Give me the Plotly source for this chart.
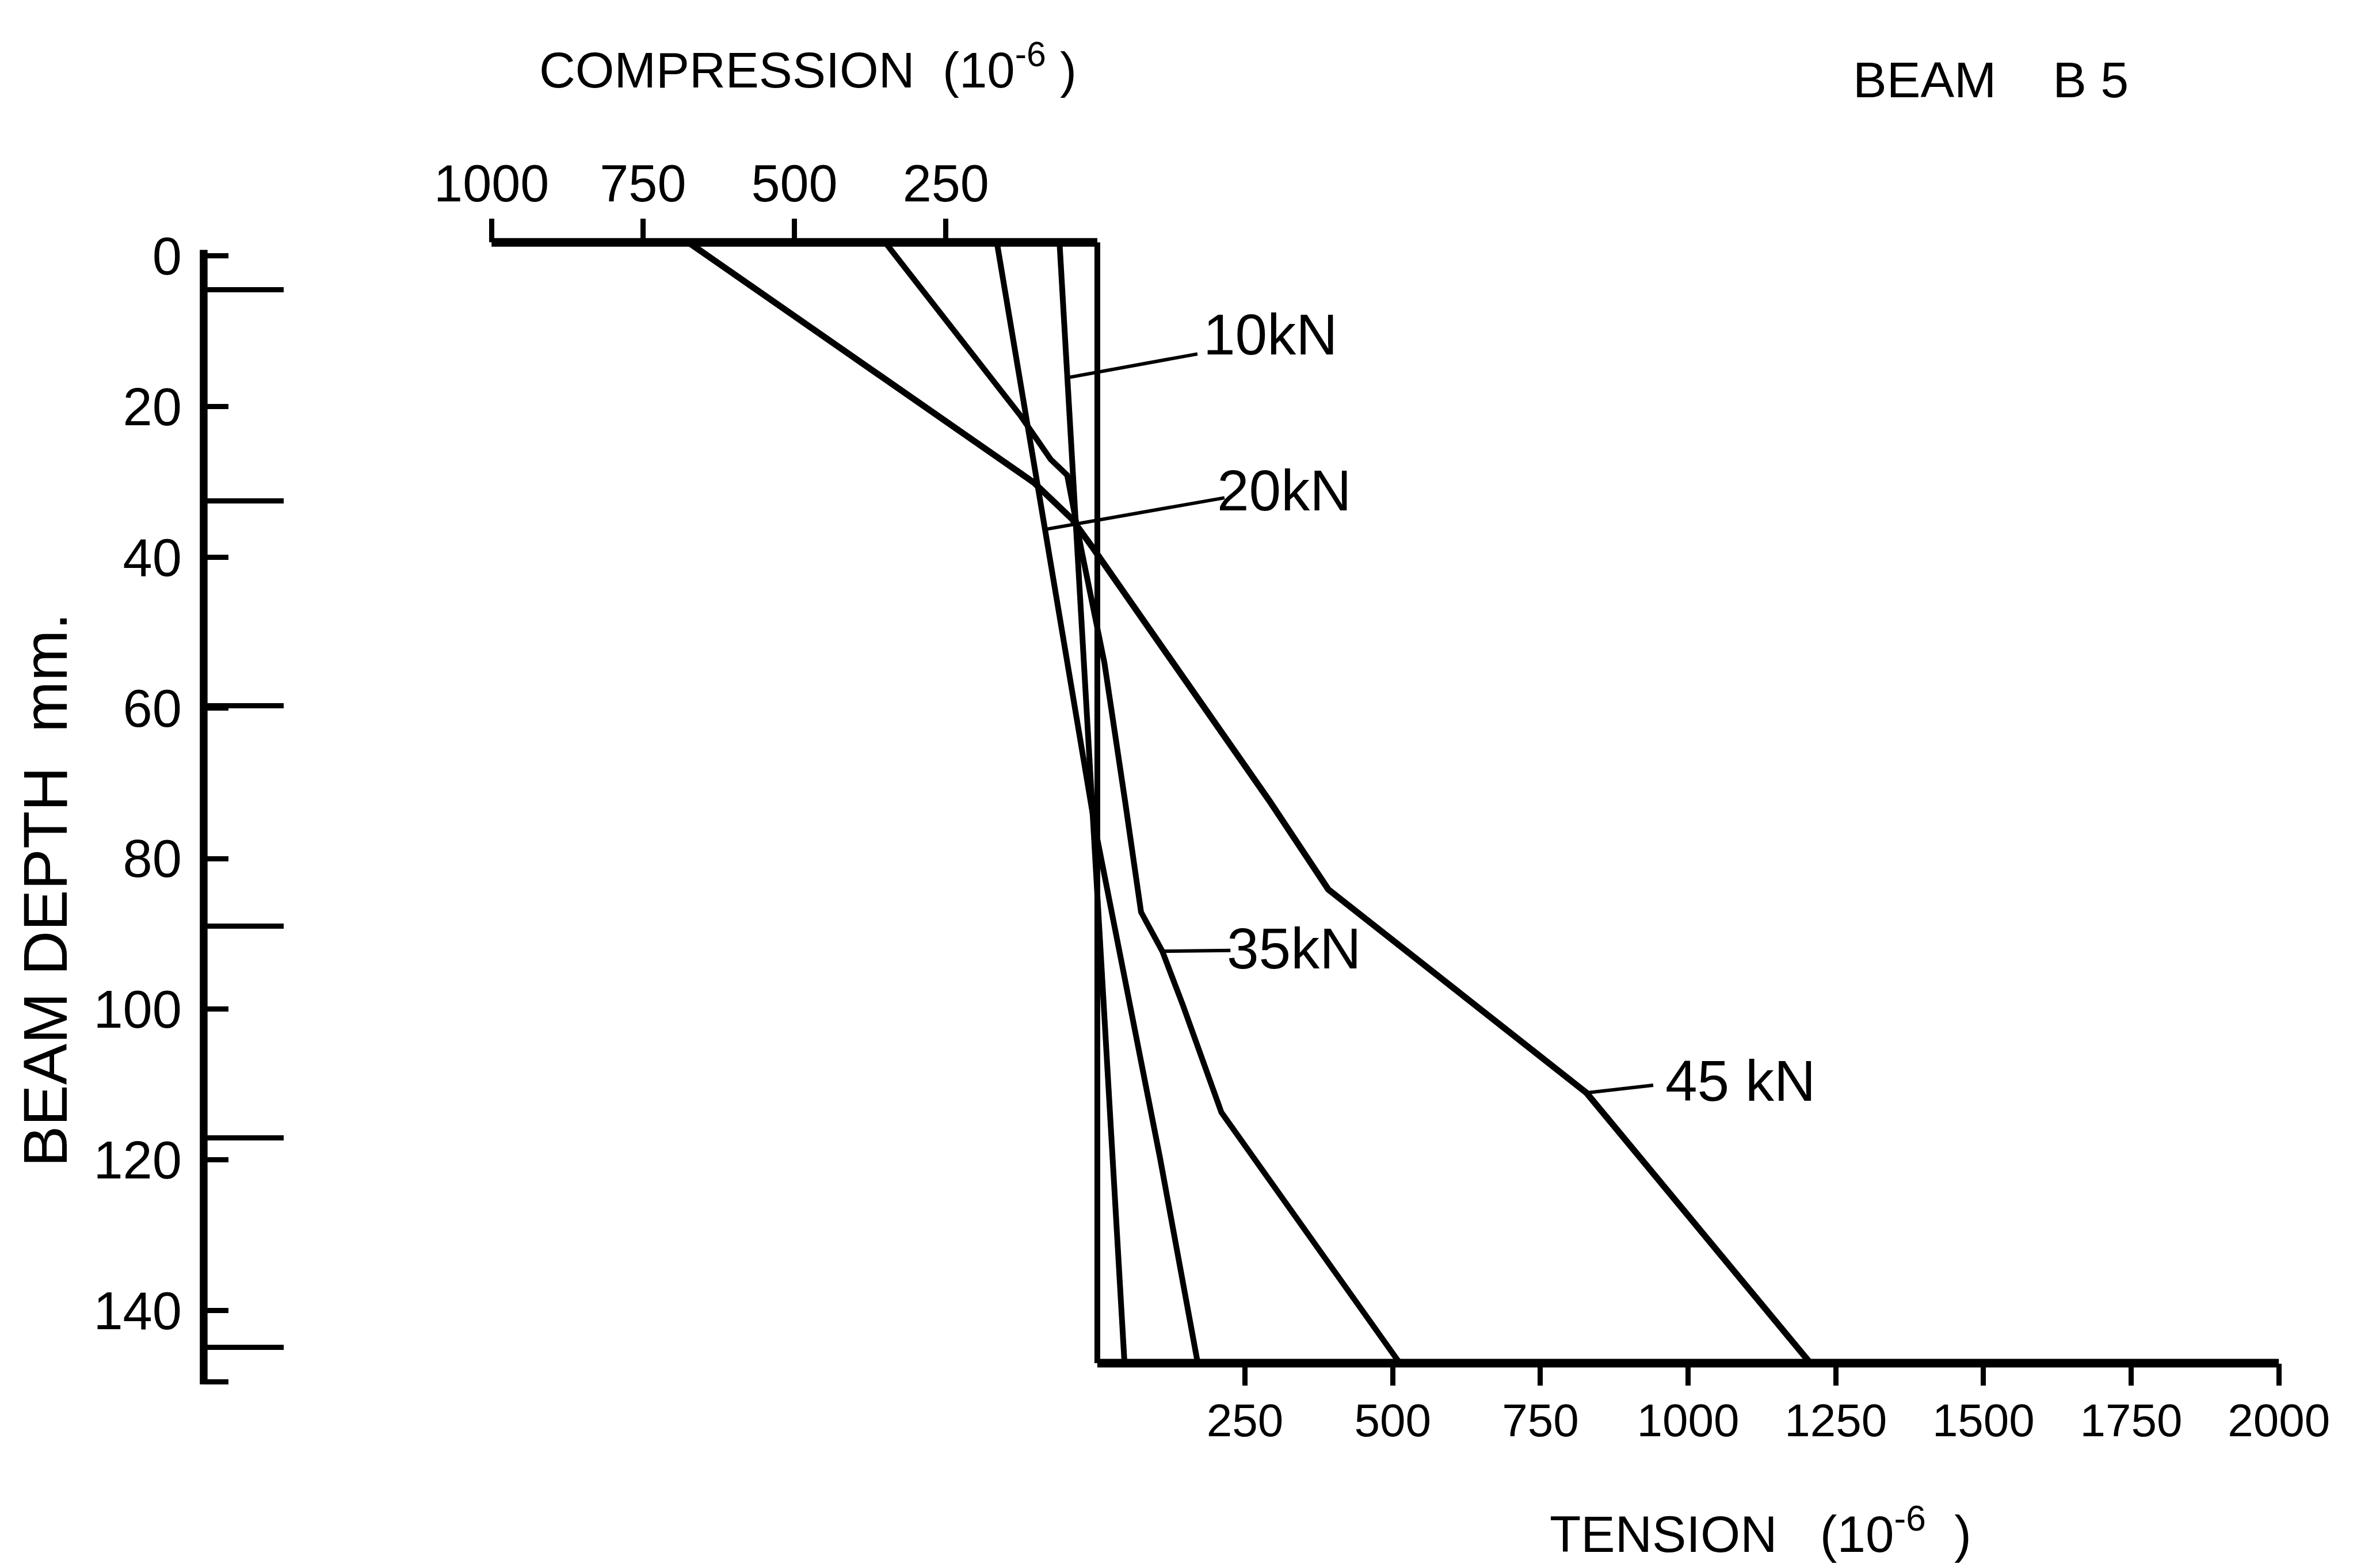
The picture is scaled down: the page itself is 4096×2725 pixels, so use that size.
import numpy as np
import plotly.graph_objects as go

# ---------------- data (strain in 1e-6, depth in mm) ----------------
TOP = -1.8       # depth at which the compression scale is drawn
BOTTOM = 147.0   # depth at which the tension scale is drawn

strain_10kN = [-64, 46]
depth_10kN = [TOP, BOTTOM]

strain_20kN = [-170, -5, 106, 170]
depth_20kN = [TOP, 75.4, 119.7, BOTTOM]

strain_35kN = [-359, -130, -79, -51, -27, 12, 47, 74, 110, 145, 210, 512]
depth_35kN = [TOP, 21.2, 27.0, 29.1, 39.0, 54.0, 72.4, 87.1, 92.3, 99.5, 113.7, BOTTOM]

strain_45kN = [-692, -107, -43, -8, 291, 391, 828, 1207]
depth_45kN = [TOP, 30.1, 34.9, 38.7, 72.3, 84.1, 111.1, BOTTOM]

zero_strain = [0, 0]
zero_depth = [TOP, BOTTOM]

depth_ticks = [0, 20, 40, 60, 80, 100, 120, 140]
depth_ticktext = ["0", "20", "40", "60", "80", "100", "120", "140"]
depth_end_tick = [149.5]
gauge_depths = [4.5, 32.5, 59.7, 89.0, 117.1, 144.9]
compression_ticks = [1000, 750, 500, 250]
tension_ticks = [250, 500, 750, 1000, 1250, 1500, 1750, 2000]
depth_axis_span = [-0.8, 149.8]

# label: (text, strain, depth, width, leader head depth, leader tail (s,d), text pos (s,d))
curves = [
    ("10kN", strain_10kN, depth_10kN, 10, 16.15, (169.5, 13.0), (177.6, 10.4)),
    ("20kN", strain_20kN, depth_20kN, 10, 36.3, (215.3, 32.1), (201.0, 31.1)),
    ("35kN", strain_35kN, depth_35kN, 10, 92.3, (225.4, 92.2), (217.6, 91.9)),
    ("45 kN", strain_45kN, depth_45kN, 11, 111.1, (941.0, 110.1), (959.3, 109.5)),
]

# ---------------- layout geometry (preview-pixel frame 1568x1043) ----------------
W, H = 4096, 2725
PW, PH = 1568.0, 1043.0
X0, KX = 730.0, 0.393      # strain zero / px per unit (tension side, data axis)
KX2 = 0.403                # px per unit on compression scale
Y0, KY = 170.3, 5.01       # depth zero / px per mm

xr = [(0 - X0) / KX, (PW - X0) / KX]
x2r = [(0 - X0) / KX2, (PW - X0) / KX2]
yr = [(PH - Y0) / KY, (0 - Y0) / KY]
yaxis_px = 135.5
yaxis_pos = yaxis_px / PW
s_axis = xr[0] + yaxis_pos * (xr[1] - xr[0])

FONT = "Liberation Sans, Arial, sans-serif"
BLACK = "#000000"

fig = go.Figure()

for name, s, d, w, hd, tail, tpos in curves:
    fig.add_trace(go.Scatter(x=s, y=d, mode="lines", line=dict(color=BLACK, width=w),
                             hoverinfo="skip", showlegend=False))

fig.add_trace(go.Scatter(x=zero_strain, y=zero_depth, mode="lines",
                         line=dict(color=BLACK, width=10), showlegend=False))

fig.add_trace(go.Scatter(x=[0, tension_ticks[-1]], y=[BOTTOM, BOTTOM], mode="lines",
                         line=dict(color=BLACK, width=15), showlegend=False))

fig.add_trace(go.Scatter(x=[-compression_ticks[0], 0], y=[TOP, TOP], mode="lines",
                         xaxis="x2", yaxis="y",
                         line=dict(color=BLACK, width=15), showlegend=False))

fig.add_trace(go.Scatter(x=[s_axis, s_axis], y=depth_axis_span, mode="lines",
                         xaxis="x", yaxis="y2",
                         line=dict(color=BLACK, width=13), showlegend=False))

fig.add_trace(go.Scatter(x=[s_axis, s_axis], y=depth_axis_span, mode="lines",
                         xaxis="x", yaxis="y3",
                         line=dict(color=BLACK, width=13), showlegend=False))

for name, s, d, w, hd, tail, tpos in curves:
    hs = float(np.interp(hd, d, s))
    fig.add_trace(go.Scatter(x=[hs, tail[0]], y=[hd, tail[1]], mode="lines",
                             line=dict(color=BLACK, width=6), showlegend=False))

annotations = []
for name, s, d, w, hd, tail, tpos in curves:
    annotations.append(dict(x=tpos[0], y=tpos[1], xref="x", yref="y", text=name,
                            showarrow=False, xanchor="left", yanchor="middle",
                            font=dict(family=FONT, size=100, color=BLACK)))

annotations += [
    dict(x=358 / PW, y=1 - 44 / PH, xref="paper", yref="paper",
         text="COMPRESSION\u00a0\u00a0(10<sup>-6</sup>\u00a0)", showarrow=False,
         xanchor="left", yanchor="middle", font=dict(family=FONT, size=87, color=BLACK)),
    dict(x=1030 / PW, y=1 - 1018 / PH, xref="paper", yref="paper",
         text="TENSION\u00a0\u00a0\u00a0(10<sup>-6</sup>\u00a0\u00a0)", showarrow=False,
         xanchor="left", yanchor="middle", font=dict(family=FONT, size=89, color=BLACK)),
    dict(x=1232 / PW, y=1 - 53 / PH, xref="paper", yref="paper",
         text="BEAM\u00a0\u00a0\u00a0\u00a0B\u00a05", showarrow=False,
         xanchor="left", yanchor="middle", font=dict(family=FONT, size=88, color=BLACK)),
    dict(x=30 / PW, y=1 - 592 / PH, xref="paper", yref="paper",
         text="BEAM DEPTH\u00a0\u00a0mm.", showarrow=False, textangle=-90,
         xanchor="center", yanchor="middle", font=dict(family=FONT, size=107, color=BLACK)),
]

common = dict(showgrid=False, zeroline=False, showline=False, automargin=False,
              fixedrange=True, tickcolor=BLACK)

fig.update_layout(
    width=W, height=H, margin=dict(l=0, r=0, t=0, b=0, pad=0),
    template="none", paper_bgcolor="white", plot_bgcolor="rgba(0,0,0,0)",
    showlegend=False, annotations=annotations,
    xaxis=dict(domain=[0, 1], range=xr, anchor="free", position=1 - (Y0 + KY * BOTTOM) / PH,
               side="bottom", ticks="outside", ticklen=38, tickwidth=9,
               tickvals=tension_ticks, ticktext=[str(v) for v in tension_ticks],
               ticklabelstandoff=-8,
               tickfont=dict(family=FONT, size=80, color=BLACK), **common),
    xaxis2=dict(range=x2r, overlaying="x", anchor="free", position=1 - (Y0 + KY * TOP) / PH,
                side="top", ticks="outside", ticklen=41, tickwidth=9,
                tickvals=[-v for v in compression_ticks], ticktext=[str(v) for v in compression_ticks],
                ticklabelstandoff=-6,
                tickfont=dict(family=FONT, size=90, color=BLACK), **common),
    yaxis=dict(domain=[0, 1], range=yr, anchor="free", position=yaxis_pos, side="left",
               ticks="inside", ticklen=42, tickwidth=9,
               tickvals=depth_ticks, ticktext=depth_ticktext, ticklabelstandoff=38,
               tickfont=dict(family=FONT, size=92, color=BLACK), **common),
    yaxis2=dict(range=yr, overlaying="y", anchor="free", position=yaxis_pos, side="left",
                ticks="inside", ticklen=138, tickwidth=9, tickvals=gauge_depths,
                showticklabels=False, **common),
    yaxis3=dict(range=yr, overlaying="y", anchor="free", position=yaxis_pos, side="left",
                ticks="inside", ticklen=42, tickwidth=9, tickvals=depth_end_tick,
                showticklabels=False, **common),
)

fig.write_html("out.html")
